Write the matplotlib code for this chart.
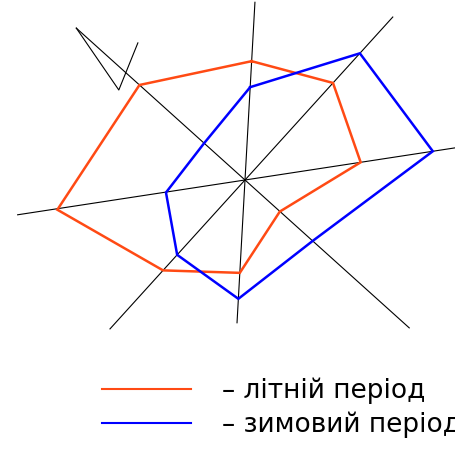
import numpy as np
import matplotlib.pyplot as plt
from matplotlib.lines import Line2D

# wind rose directions (hand-drawn, so the axes are not exactly 45 deg apart)
directions = ["N", "NE", "E", "SE", "S", "SW", "W", "NW"]
dir_angles = [86.8, 47.8, 8.7, 317.8, 266.8, 227.8, 189.0, 138.0]

summer = [119, 131, 117, 47, 93, 122, 190, 142]
winter = [93, 171, 190, 91, 119, 101, 80, 55]

# axis lines: angle, length forward, length backward
axis_angles = [86.8, 8.7, 47.8, 138.0]
axis_fwd = [178, 220, 220, 227]
axis_back = [143, 230, 201, 221]

labels = ["– літній період", "– зимовий період"]
colors = ["#FF4A14", "#0000FF"]


def polar_xy(r, ang):
    a = np.deg2rad(np.asarray(ang, dtype=float))
    r = np.asarray(r, dtype=float)
    return r * np.cos(a), r * np.sin(a)


fig = plt.figure(figsize=(4.55, 4.49), dpi=100)
ax = fig.add_axes([0, 0, 1, 1])
ax.set_xlim(-245, 210)
ax.set_ylim(-269, 180)
ax.set_aspect("equal")
ax.axis("off")

for a, f, b in zip(axis_angles, axis_fwd, axis_back):
    x, y = polar_xy([f, -b], [a, a])
    ax.plot(x, y, color="black", lw=0.8)

# north arrow at the end of the NW axis
ax_x, ax_y = polar_xy([227, 155, 174], [138.0, 144.5, 128.0])
ax.plot(ax_x, ax_y, color="black", lw=0.8)

for vals, c in zip([summer, winter], colors):
    x, y = polar_xy(vals + vals[:1], dir_angles + dir_angles[:1])
    ax.plot(x, y, color=c, lw=1.8, solid_joinstyle="miter")

# legend text runs off the right edge, as in the original drawing
handles = [Line2D([], [], color=c, lw=1.5) for c in colors]
ax.legend(handles, labels, loc="upper left", bbox_to_anchor=(0.2, 0.182),
          frameon=False, fontsize=19, handlelength=3.4, handletextpad=1.15,
          labelspacing=0.28, borderaxespad=0)

fig.savefig("out.png", dpi=100)
